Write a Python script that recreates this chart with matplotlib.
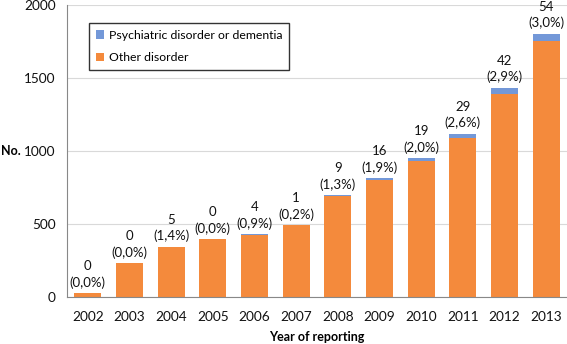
import matplotlib
matplotlib.use("Agg")
import matplotlib.pyplot as plt
import numpy as np

years = ["2002", "2003", "2004", "2005", "2006", "2007", "2008", "2009", "2010", "2011", "2012", "2013"]
psych = [0, 0, 5, 0, 4, 1, 9, 16, 19, 29, 42, 54]
totals = [28, 233, 345, 397, 430, 495, 700, 815, 950, 1120, 1435, 1805]
pct_labels = ["0,0%", "0,0%", "1,4%", "0,0%", "0,9%", "0,2%", "1,3%", "1,9%", "2,0%", "2,6%", "2,9%", "3,0%"]
other = [t - p for t, p in zip(totals, psych)]

plt.rcParams['font.family'] = ['Lato', 'DejaVu Sans']

fig = plt.figure(figsize=(5.67, 3.44), dpi=100)
ax = fig.add_axes([0.118, 0.137, 0.882, 0.848])

x = np.arange(len(years))
orange = "#F48A3C"
blue = "#7398D8"
ax.bar(x, other, width=0.65, color=orange, label="Other disorder", zorder=2)
ax.bar(x, psych, width=0.65, bottom=other, color=blue, label="Psychiatric disorder or dementia", zorder=2)

for xi, t, p, pl in zip(x, totals, psych, pct_labels):
    ax.annotate(f"{p}\n({pl})", (xi, t), xytext=(0, 3), textcoords="offset points",
                ha="center", va="bottom", fontsize=9.5, linespacing=1.4, color="#111111")

ax.set_xlim(-0.5, len(years) - 0.5)
ax.set_ylim(0, 2000)
ax.set_yticks([0, 500, 1000, 1500, 2000])
ax.set_xticks(x)
ax.set_xticklabels(years)
ax.tick_params(axis="both", length=0, labelsize=9.8, colors="#111111")
ax.tick_params(axis="x", pad=10)
ax.tick_params(axis="y", pad=8)
ax.yaxis.grid(True, color="#D9D9D9", linewidth=0.8, zorder=0)
ax.set_axisbelow(True)
for s in ["top", "right"]:
    ax.spines[s].set_visible(False)
ax.spines["left"].set_color("#888888")
ax.spines["bottom"].set_color("#888888")

ax.set_xlabel("Year of reporting", fontsize=9, fontweight="bold", labelpad=6)
ax.set_ylabel("No.", fontsize=9, fontweight="bold", rotation=0, ha="center", va="center")
ax.yaxis.set_label_coords(-0.112, 0.5)

handles, labels = ax.get_legend_handles_labels()
leg = ax.legend(handles[::-1], labels[::-1], loc="upper left", bbox_to_anchor=(0.032, 0.96),
                fontsize=8.8, frameon=True, fancybox=False, edgecolor="black",
                handlelength=0.7, handleheight=0.7, handletextpad=0.4, borderpad=0.55,
                labelspacing=0.95)
leg.get_frame().set_linewidth(1.0)

fig.savefig("out.png", dpi=100)
